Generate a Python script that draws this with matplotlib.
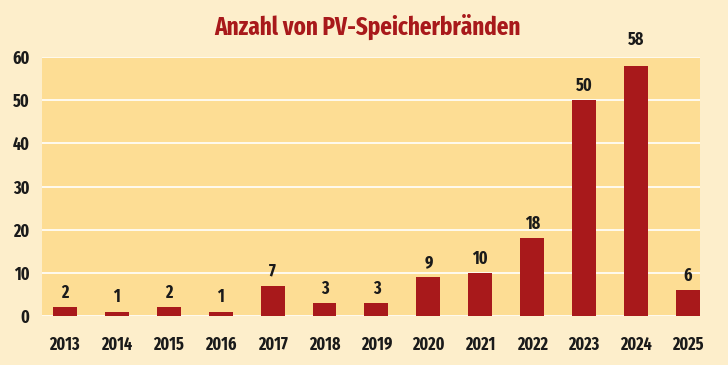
import matplotlib
matplotlib.use('Agg')
import matplotlib.pyplot as plt

years = ['2013', '2014', '2015', '2016', '2017', '2018', '2019',
         '2020', '2021', '2022', '2023', '2024', '2025']
fires = [2, 1, 2, 1, 7, 3, 3, 9, 10, 18, 50, 58, 6]
yticks = [0, 10, 20, 30, 40, 50, 60]

plt.rcParams['font.family'] = ['Fira Sans Extra Condensed', 'DejaVu Sans']
plt.rcParams['font.weight'] = 'bold'

red = '#a8191b'
fig = plt.figure(figsize=(7.28, 3.65), dpi=100, facecolor='#fdeecb')
ax = fig.add_axes([0.0577, 0.134, 0.9038, 0.710])
ax.set_facecolor('#fddd94')

x = list(range(len(years)))
ax.bar(x, fires, width=0.46, color=red, zorder=3)
for xi, v in zip(x, fires):
    # the top label sits a bit higher in the original
    off = 12 if v == max(fires) else 4
    ax.annotate(str(v), (xi, v), xytext=(0, off), textcoords='offset points',
                ha='center', va='bottom', fontsize=12.5, color='#1a1a1a',
                fontweight='bold', zorder=4)

ax.set_xlim(-0.44, 12.23)
ax.set_ylim(0, 60)
ax.set_yticks(yticks)
ax.set_xticks(x)
ax.set_xticklabels(years)
ax.grid(axis='y', color='white', lw=1.2, zorder=1)
ax.set_axisbelow(True)
for s in ax.spines.values():
    s.set_visible(False)
ax.tick_params(length=0, labelsize=12.5, labelcolor='#1a1a1a')
ax.tick_params(axis='x', pad=14)
ax.tick_params(axis='y', pad=9)

fig.text(0.505, 0.926, 'Anzahl von PV-Speicherbränden', ha='center', va='center',
         fontsize=18, fontweight='bold', color=red)

fig.savefig('out.png', dpi=100, facecolor=fig.get_facecolor())
